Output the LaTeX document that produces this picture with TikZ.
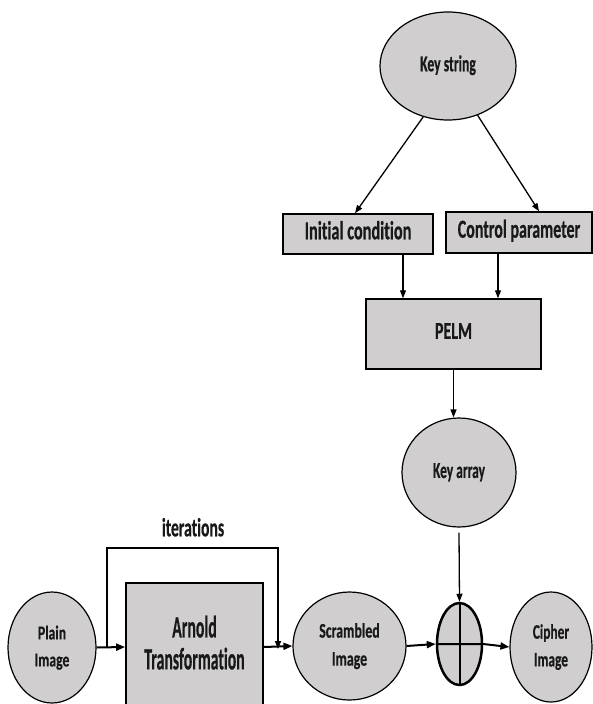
\documentclass[tikz,border=0pt]{standalone}
\usepackage{fontspec}
\usepackage{graphicx}
\setmainfont[Ligatures=NoCommon]{Carlito}
\newfontfamily\lbf[Ligatures=NoCommon,FakeBold=0.6]{Carlito Bold}
\usetikzlibrary{shapes.geometric,arrows.meta,calc}
\definecolor{boxfill}{RGB}{208,206,206}
\definecolor{ink}{RGB}{25,25,25}
\newcommand\lb[4]{\scalebox{1}[#2]{\fontsize{#1}{#3}\lbf\begin{tabular}{@{}c@{}}#4\end{tabular}}}
\tikzset{
  every node/.style={text=ink},
  ell/.style={ellipse,draw=black,fill=boxfill,line width=1.2pt,inner sep=0pt},
  rbox/.style={rectangle,draw=black,fill=boxfill,line width=1.5pt,inner sep=0pt},
  arr/.style={-{Triangle[length=8pt,width=6pt]},line width=1.3pt},
  barr/.style={-{Triangle[length=9pt,width=7pt]},line width=2pt},
}
\begin{document}
\begin{tikzpicture}[x=1pt,y=-1pt]
\useasboundingbox (0,0) rectangle (592,704);
% nodes
\node[ell,minimum width=136pt,minimum height=108pt] (ks) at (448,66) {\lb{13.7}{1.66}{16}{Key string}};
\node[rbox,minimum width=150pt,minimum height=40pt] (ic) at (358,234) {\lb{16.3}{1.6}{16}{Initial condition}};
\node[rbox,minimum width=146pt,minimum height=41pt] (cp) at (519,232.5) {\lb{16}{1.62}{16}{Control parameter}};
\node[rbox,minimum width=175pt,minimum height=70pt] (pelm) at (453.5,334) {\lb{16}{1.52}{16}{PELM}};
\node[ell,minimum width=114pt,minimum height=109pt] (ka) at (459,472.5) {\lb{13.5}{1.69}{16}{Key array}};
\node[ell,minimum width=88pt,minimum height=111pt] (plain) at (52,647.5) {\lb{13.7}{1.44}{18.75}{Plain\\Image}};
\node[rbox,line width=1.8pt,minimum width=137pt,minimum height=128pt] (arnold) at (194.5,647) {\lb{15.8}{1.96}{16.3}{Arnold\\Transformation}};
\node[ell,minimum width=113pt,minimum height=108pt] (scr) at (349.5,646) {\lb{13.9}{1.49}{18.8}{Scrambled\\Image}};
\node[ell,line width=2.5pt,minimum width=45pt,minimum height=82pt] (xor) at (459.5,644) {};
\node[ell,minimum width=82pt,minimum height=110pt] (cph) at (551,647) {\lb{13.4}{1.54}{18}{Cipher\\Image}};
\node (itl) at (193,531) {\lb{15.7}{1.66}{16}{iterations}};
% xor cross
\draw[line width=2pt] (xor.north) -- (xor.south);
% connectors
\draw[arr] (ks.244) -- ([xshift=-3pt]ic.north);
\draw[arr] (ks.301) -- ([xshift=20pt]cp.north);
\draw[arr] ([xshift=45pt]ic.south) -- ([xshift=45pt]ic.south |- pelm.north);
\draw[arr] ([xshift=-21pt]cp.south) -- ([xshift=-21pt]cp.south |- pelm.north);
\draw[arr] (pelm.south) -- (pelm.south |- ka.north);
\draw[arr] ([yshift=-5pt]ka.south) -- (xor.north);
\draw[barr] (plain.east) -- (arnold.west);
\draw[barr] (arnold.east) -- (scr.west);
\draw[barr] (scr.east) -- (xor.west);
\draw[barr] (xor.west) -- (xor.east) -- (cph.west);
% iterations loop
\coordinate (itA) at (107,647);
\coordinate (itT) at (107,548);
\coordinate (itU) at (278,548);
\coordinate (itB) at (278,649);
\draw[arr,line width=1.6pt] (itA) -- (itT) -- (itU) -- (itB);
\end{tikzpicture}
\end{document}
